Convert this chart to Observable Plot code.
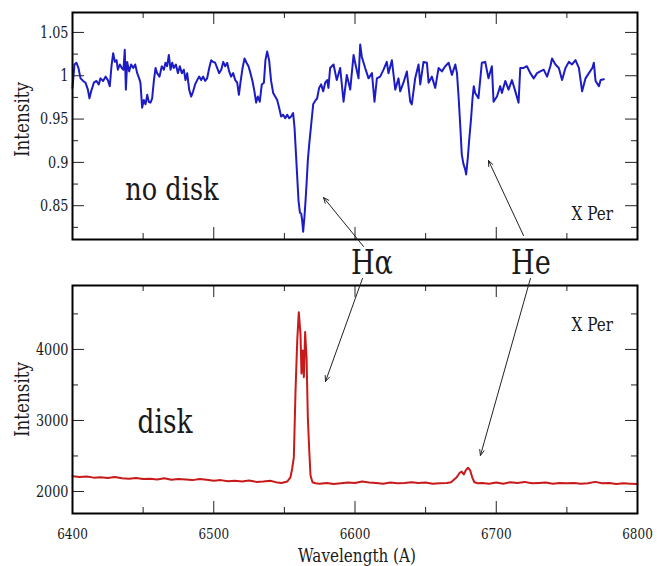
<!DOCTYPE html>
<html><head><meta charset="utf-8">
<script src="https://cdn.jsdelivr.net/npm/d3@7"></script>
<script src="https://cdn.jsdelivr.net/npm/@observablehq/plot@0.6"></script>
<style>
body{margin:0;background:#fff;}
#wrap{position:relative;width:658px;height:566px;background:#fff;}
#wrap svg{position:absolute;left:0;background:transparent !important;font-family:"DejaVu Serif",serif !important;}
</style></head><body><div id="wrap"></div>
<script>
// ---------- data: spectrum without disk (top, normalised) ----------
const noDiskWave = [6400,6401.4,6402.8,6404.2,6405.7,6407.6,6409.2,6410.9,6412,6413.2,6415.1,6417,6418.6,6419.8,6421.7,6423.4,6425,6426.4,6427.6,6428.8,6430,6431.2,6432.1,6433.5,6434.9,6436.1,6437,6437.8,6438.7,6440.1,6441.5,6443,6444.4,6445.8,6447.2,6448.1,6449.3,6450.5,6451.7,6452.9,6454,6455.2,6456.4,6457.6,6458.8,6459.9,6461.6,6463.2,6464.7,6465.8,6467,6468.2,6469.4,6470.6,6471.7,6473.2,6474.6,6476,6477.4,6478.8,6480,6481.2,6482.6,6484,6485.4,6486.8,6488.3,6489.7,6491.1,6492.5,6493.9,6495.3,6496.8,6498.2,6499.6,6501,6502.4,6503.8,6505.3,6506.7,6508.1,6509.5,6510.9,6512.3,6513.7,6515.2,6516.6,6517.8,6518.9,6520.4,6521.8,6523.2,6524.6,6526,6527.4,6528.8,6530,6531.2,6532.6,6534,6535.5,6536.6,6537.8,6539.2,6540.6,6542.1,6543.5,6544.9,6546.3,6547.7,6549.1,6550.6,6552,6553.4,6554.8,6556.2,6557.2,6558.1,6559.1,6560,6561,6561.9,6562.6,6563.3,6564.2,6565,6565.7,6566.6,6567.6,6569,6570.4,6571.8,6573.2,6574.6,6576,6577.5,6578.9,6580.3,6581.2,6582.4,6584.8,6587.1,6589.5,6591.9,6594.2,6596.6,6599,6600.1,6602.5,6603.7,6604.8,6607.2,6609.6,6612,6613.8,6615.5,6617.8,6620.2,6622.5,6623.7,6626.1,6628.5,6630.8,6632,6634.3,6636.7,6639.1,6640.2,6642.6,6645,6646.2,6648.5,6650.9,6652.1,6654.4,6656.8,6659.2,6661.5,6663.9,6666.3,6668.6,6671,6672.2,6673.4,6674.6,6675.6,6676.8,6678,6678.7,6679.9,6680.8,6682.2,6683.2,6684.1,6685.1,6687.4,6689.8,6692.2,6694.5,6696.9,6698.1,6700.5,6702.8,6704,6706.4,6708.7,6711.1,6713.5,6715.8,6717,6719.4,6721.7,6724.1,6726.5,6728.9,6731.2,6733.6,6736,6738.3,6739.5,6741.9,6744.3,6746.6,6749,6751.4,6753.7,6756.1,6758.5,6760.8,6763.2,6765.6,6768,6769.1,6770.3,6772.7,6773.9,6776.2];
const noDiskFlux = [0.986,1.013,1.015,1.009,0.997,0.994,0.992,0.984,0.974,0.982,0.992,0.994,0.990,0.997,0.994,0.999,0.995,0.988,1.011,1.026,1.016,1.018,1.007,1.013,1.009,1.007,1.030,0.984,1.016,1.005,1.013,1.009,1.013,1.003,0.997,0.992,0.963,0.972,0.967,0.978,0.970,0.969,0.974,0.994,1.009,1.003,0.999,1.011,1.007,1.015,1.011,1.024,1.007,1.015,1.009,1.013,1.003,1.011,1.003,1.007,0.995,1.003,0.984,0.976,0.982,0.990,0.995,0.999,0.995,0.999,0.994,0.997,1.009,1.018,1.016,1.015,1.009,1.003,1.007,1.016,1.011,1.015,1.005,0.999,1.003,0.995,0.992,0.978,0.992,1.009,1.020,1.015,1.011,1.003,0.994,0.982,0.969,0.976,0.970,0.990,0.992,1.018,1.028,1.018,0.994,0.980,0.976,0.972,0.963,0.953,0.955,0.951,0.955,0.951,0.953,0.957,0.940,0.913,0.883,0.856,0.842,0.841,0.833,0.820,0.837,0.856,0.875,0.902,0.921,0.944,0.967,0.971,0.974,0.986,0.990,0.982,0.992,0.995,0.986,1.009,1.013,0.995,1.009,0.970,1.001,0.984,1.024,1.015,0.997,1.036,1.022,1.009,0.997,1.003,0.970,0.997,0.999,1.007,1.016,1.003,1.018,0.984,0.997,0.982,0.992,1.005,0.970,0.967,0.997,1.013,0.990,1.016,1.015,0.992,0.999,0.986,1.009,1.005,1.011,1.015,1.001,1.013,1.003,0.974,0.940,0.909,0.898,0.892,0.886,0.906,0.925,0.951,0.974,0.988,0.980,0.974,1.015,1.016,0.997,1.011,0.970,0.976,0.988,0.980,0.994,0.984,0.995,0.982,0.969,1.009,1.009,1.011,1.003,0.997,1.003,1.005,1.007,0.999,1.011,1.020,1.013,1.009,0.995,1.009,1.016,1.013,1.018,1.009,0.982,0.997,1.003,1.009,1.015,0.994,0.988,0.995,0.996];

// ---------- data: spectrum with disk (bottom, counts) ----------
const diskWave = [6400,6405,6410,6415,6420,6425,6430,6435,6440,6445,6450,6455,6460,6465,6470,6475,6480,6485,6490,6495,6500,6505,6510,6515,6520,6525,6530,6535,6540,6545,6548,6550,6552,6554.3,6555.5,6556.7,6557.9,6559.1,6560.2,6561.4,6562.1,6563,6563.8,6564.7,6565.7,6566.6,6567.6,6568.5,6569.9,6572,6575,6580,6585,6590,6595,6600,6605,6610,6615,6620,6625,6630,6635,6640,6645,6650,6655,6660,6665,6668,6670,6672,6674,6675.5,6677,6678.5,6680,6681.5,6683,6684.5,6687,6690,6695,6700,6705,6710,6715,6720,6725,6730,6735,6740,6745,6750,6755,6760,6765,6770,6775,6780,6785,6790,6795,6800];
const diskFlux = [2215,2205,2210,2195,2200,2190,2205,2185,2180,2190,2175,2180,2170,2185,2165,2175,2170,2160,2175,2165,2150,2160,2145,2150,2140,2155,2135,2140,2150,2125,2120,2130,2140,2200,2320,2480,3420,4120,4525,4220,3660,3985,3610,4245,3890,3050,2580,2225,2130,2115,2110,2120,2105,2115,2125,2120,2140,2125,2120,2110,2125,2115,2120,2130,2120,2125,2110,2115,2120,2130,2165,2200,2260,2280,2240,2300,2335,2300,2200,2130,2115,2120,2110,2125,2110,2130,2120,2135,2115,2120,2125,2110,2120,2115,2120,2110,2115,2135,2115,2120,2105,2115,2110,2105];

// ---------- axes ----------
const xDomain = [6400, 6800];
const xMajorTicks = [6400, 6500, 6600, 6700, 6800];
const xMinorTicks = [6450, 6550, 6650, 6750];
const topDomain = [0.811, 1.073];
const topMajorTicks = [0.85, 0.9, 0.95, 1, 1.05];
const topMinorTicks = [0.825, 0.875, 0.925, 0.975, 1.025];
const botDomain = [1690, 4900];
const botMajorTicks = [2000, 3000, 4000];
const botMinorTicks = [2500, 3500, 4500];
const yLabel = "Intensity";
const xLabel = "Wavelength (A)";

// ---------- annotations (data units) ----------
const topYLabelAt = 0.9495;
const topLabels = [{x: 6470.4, y: 0.8689, text: "no disk", size: "big"}, {x: 6768, y: 0.8411, text: "X Per", size: "small"}];
const botLabels = [{x: 6465.5, y: 2970, text: "disk", size: "big"}, {x: 6768, y: 4352, text: "X Per", size: "small"}];
const lineLabels = [{x: 6612, y: 5212, text: "Hα"}, {x: 6724.6, y: 5212, text: "He"}];
const topArrows = [{x1: 6606, y1: 0.803, x2: 6577.7, y2: 0.8595}, {x1: 6719.3, y1: 0.8156, x2: 6694.5, y2: 0.9022}];
const botArrows = [{x1: 6605.3, y1: 4999, x2: 6579.1, y2: 3548}, {x1: 6724.2, y1: 4999, x2: 6688.8, y2: 2507}];

// ---------- drawing ----------
const FONT = "DejaVu Serif";
const W = 658, ML = 72, MR = 21;
const FW = W - ML - MR;
const blue = "#1c1cc4", red = "#c81a1a";
const ink = "#1a1a1a";

function edgeTicks(yMaj, yMin, FH) {
  const M = 12, m = 6, st = {stroke: "#222", strokeWidth: 1};
  return [
    Plot.tickX(xMajorTicks, {x: d => d, insetTop: FH - M, ...st}),
    Plot.tickX(xMajorTicks, {x: d => d, insetBottom: FH - M, ...st}),
    Plot.tickX(xMinorTicks, {x: d => d, insetTop: FH - m, ...st}),
    Plot.tickX(xMinorTicks, {x: d => d, insetBottom: FH - m, ...st}),
    Plot.tickY(yMaj, {y: d => d, insetRight: FW - M, ...st}),
    Plot.tickY(yMaj, {y: d => d, insetLeft: FW - M, ...st}),
    Plot.tickY(yMin, {y: d => d, insetRight: FW - m, ...st}),
    Plot.tickY(yMin, {y: d => d, insetLeft: FW - m, ...st})
  ];
}
const T = {fill: ink, fontFamily: FONT, textAnchor: "middle", lineAnchor: "middle"};

const topData = noDiskWave.map((w, i) => ({w, f: noDiskFlux[i]}));
const botData = diskWave.map((w, i) => ({w, f: diskFlux[i]}));

const topH = 260, topMT = 12, topMB = 21;
const topPlot = Plot.plot({
  width: W, height: topH,
  marginLeft: ML, marginRight: MR, marginTop: topMT, marginBottom: topMB,
  x: {domain: xDomain, axis: null},
  y: {domain: topDomain, axis: null},
  style: {background: "transparent", overflow: "visible", color: "black"},
  marks: [
    ...edgeTicks(topMajorTicks, topMinorTicks, topH - topMT - topMB),
    Plot.line(topData, {x: "w", y: "f", stroke: blue, strokeWidth: 2}),
    Plot.frame({stroke: "black", strokeWidth: 2}),
    Plot.text(topMajorTicks, {...T, y: d => d, frameAnchor: "left", dx: -4, textAnchor: "end", text: d => String(d), fontSize: 16}),
    Plot.text([yLabel], {...T, y: () => topYLabelAt, frameAnchor: "left", dx: -50, rotate: -90, text: d => d, fontSize: 21}),
    Plot.text(topLabels, {...T, x: "x", y: "y", text: "text", fontSize: d => d.size === "big" ? 32 : 19}),
    Plot.arrow(topArrows, {x1: "x1", y1: "y1", x2: "x2", y2: "y2", stroke: "#222", strokeWidth: 1, headLength: 9, headAngle: 45})
  ]
});

const botTop = 240, botH = 326, botMT = 45, botMB = 53;
const botPlot = Plot.plot({
  width: W, height: botH,
  marginLeft: ML, marginRight: MR, marginTop: botMT, marginBottom: botMB,
  x: {domain: xDomain, axis: null},
  y: {domain: botDomain, axis: null},
  style: {background: "transparent", overflow: "visible", color: "black"},
  marks: [
    ...edgeTicks(botMajorTicks, botMinorTicks, botH - botMT - botMB),
    Plot.line(botData, {x: "w", y: "f", stroke: red, strokeWidth: 2}),
    Plot.frame({stroke: "black", strokeWidth: 2}),
    Plot.text(botMajorTicks, {...T, y: d => d, frameAnchor: "left", dx: -4, textAnchor: "end", text: d => String(d), fontSize: 16}),
    Plot.text(xMajorTicks, {...T, x: d => d, frameAnchor: "bottom", dy: 21, text: d => String(d), fontSize: 15}),
    Plot.text([yLabel], {...T, frameAnchor: "left", dx: -50, rotate: -90, text: d => d, fontSize: 21}),
    Plot.text([xLabel], {...T, frameAnchor: "bottom", dx: 2, dy: 42, text: d => d, fontSize: 19}),
    Plot.text(botLabels, {...T, x: "x", y: "y", text: "text", fontSize: d => d.size === "big" ? 33 : 19}),
    Plot.text(lineLabels, {...T, x: "x", y: "y", text: "text", fontSize: 34}),
    Plot.arrow(botArrows, {x1: "x1", y1: "y1", x2: "x2", y2: "y2", stroke: "#222", strokeWidth: 1, headLength: 9, headAngle: 45})
  ]
});

const wrap = document.getElementById("wrap");
topPlot.style.top = "0px";
botPlot.style.top = botTop + "px";
wrap.appendChild(topPlot);
wrap.appendChild(botPlot);

// narrow the serif glyphs to the tall, condensed look of the original figure
function condense(svg, k) {
  svg.querySelectorAll("text").forEach(t => {
    const L = t.getComputedTextLength();
    if (L > 0) {
      t.setAttribute("textLength", (L * k).toFixed(1));
      t.setAttribute("lengthAdjust", "spacingAndGlyphs");
    }
  });
}
condense(topPlot, 0.8);
condense(botPlot, 0.8);
</script></body></html>
